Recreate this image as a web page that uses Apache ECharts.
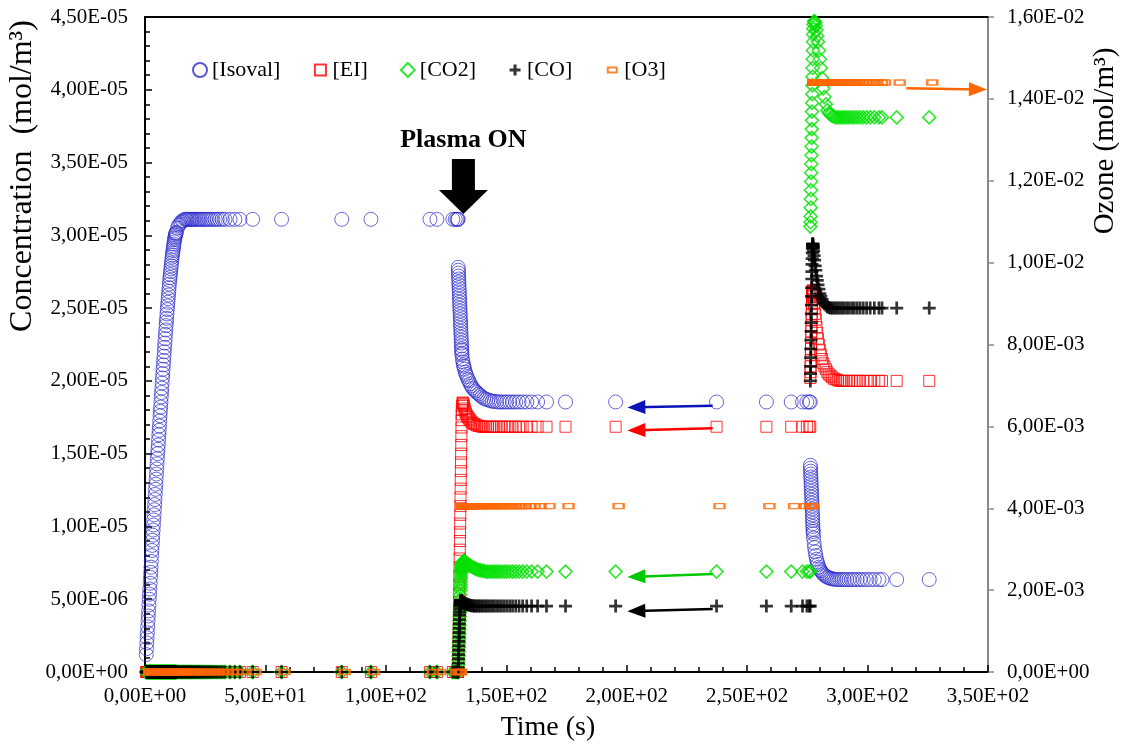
<!DOCTYPE html>
<html>
<head>
<meta charset="utf-8">
<script src="https://cdn.jsdelivr.net/npm/echarts@6/dist/echarts.min.js"></script>
<style>
html, body { margin: 0; padding: 0; background: #fff; }
#chart { width: 1122px; height: 744px; }
</style>
</head>
<body>
<div id="chart"></div>
<script>
// time (s) and concentrations, left axis values in 1e-5 mol/m3, ozone in 1e-2 mol/m3
const tPhase1 = [0.5, 0.625, 0.75, 0.875, 1, 1.125, 1.25, 1.375, 1.5, 1.625, 1.75, 1.875, 2, 2.125, 2.25, 2.375,
  2.5, 2.625, 2.75, 2.875, 3, 3.125, 3.25, 3.375, 3.5, 3.625, 3.75, 3.875, 4, 4.125, 4.25, 4.375,
  4.5, 4.625, 4.75, 4.875, 5, 5.125, 5.25, 5.375, 5.5, 5.625, 5.75, 5.875, 6, 6.125, 6.25, 6.375,
  6.5, 6.625, 6.75, 6.875, 7, 7.125, 7.25, 7.375, 7.5, 7.625, 7.75, 7.875, 8, 8.125, 8.25, 8.375,
  8.5, 8.625, 8.75, 8.875, 9, 9.125, 9.25, 9.375, 9.5, 9.625, 9.75, 9.875, 10, 10.125, 10.25, 10.375,
  10.5, 10.625, 10.75, 10.875, 11, 11.125, 11.25, 11.375, 11.5, 11.625, 11.75, 11.875, 12, 12.125, 12.25, 12.375,
  12.5, 12.625, 12.75, 12.875, 13,
  13.5, 14, 14.5, 15, 15.5, 16, 16.5, 17,
  17.5, 18, 18.5, 19, 19.5, 20, 20.6, 21.2, 21.8, 22.4, 23, 23.7, 24.4, 25.1, 25.8, 26.6, 27.4, 28.2, 29.1, 30, 31, 32.1,
  33.2, 35.3, 37.3, 39.4, 44.7, 56.7, 81.7, 93.8, 118.3, 121.2, 127.8, 128.8, 129.5, 129.9];
const isovalPhase1 = [0.12, 0.16, 0.20, 0.235, 0.27, 0.31, 0.35, 0.385, 0.42, 0.46, 0.50, 0.535, 0.57, 0.61, 0.65, 0.685,
  0.72, 0.76, 0.80, 0.835, 0.87, 0.905, 0.94, 0.975, 1.01, 1.045, 1.08, 1.115, 1.15, 1.185, 1.22, 1.255,
  1.29, 1.325, 1.36, 1.395, 1.43, 1.465, 1.50, 1.53, 1.56, 1.595, 1.63, 1.66, 1.69, 1.725, 1.76, 1.79,
  1.82, 1.855, 1.89, 1.92, 1.95, 1.985, 2.02, 2.05, 2.08, 2.11, 2.14, 2.17, 2.20, 2.23, 2.26, 2.29,
  2.32, 2.35, 2.38, 2.405, 2.43, 2.46, 2.49, 2.515, 2.54, 2.565, 2.59, 2.615, 2.64, 2.665, 2.69, 2.71,
  2.73, 2.75, 2.77, 2.79, 2.81, 2.83, 2.85, 2.865, 2.88, 2.895, 2.91, 2.925, 2.94, 2.955, 2.97, 2.98,
  2.99, 3.00, 3.01, 3.015, 3.02,
  3.05, 3.07, 3.08, 3.09, 3.10, 3.10, 3.11, 3.11,
  3.11, 3.11, 3.11, 3.11, 3.11, 3.11, 3.11, 3.11, 3.11, 3.11, 3.11, 3.11, 3.11, 3.11, 3.11, 3.11, 3.11, 3.11, 3.11, 3.11, 3.11, 3.11,
  3.11, 3.11, 3.11, 3.11, 3.11, 3.11, 3.11, 3.11, 3.11, 3.11, 3.11, 3.11, 3.11, 3.11];
// before the plasma, EI, CO2, CO and O3 all sit on zero
const baselinePhase1 = tPhase1.map(() => 0);

const tPhase2 = [130,
  130.05, 130.1, 130.15, 130.2, 130.25, 130.3, 130.35, 130.4, 130.45, 130.5, 130.55, 130.6, 130.65, 130.7, 130.75, 130.8,
  130.85, 130.9, 130.95, 131, 131.05, 131.1, 131.15, 131.2, 131.25, 131.3, 131.35, 131.4, 131.45, 131.5, 131.55, 131.6,
  131.8, 132, 132.2, 132.4, 132.7, 133, 133.3, 133.7, 134.1, 134.5, 135, 135.5, 136, 136.6, 137.2, 137.8, 138.5, 139.2, 139.9, 140.7,
  141.5, 142.3, 143.2, 144.1, 145, 146, 147, 148, 149.1, 150.2, 151.4, 152.6, 153.9, 155.3, 156.8, 158.5, 160.5, 163, 166.7, 174.6,
  195.4, 237.3, 258, 268.3, 273, 274.8, 275.8];
const isovalPhase2 = [3.11,
  2.78, 2.76, 2.74, 2.72, 2.70, 2.68, 2.66, 2.64, 2.62, 2.60, 2.58, 2.56, 2.54, 2.52, 2.50, 2.48,
  2.46, 2.44, 2.42, 2.40, 2.38, 2.36, 2.34, 2.32, 2.30, 2.28, 2.26, 2.24, 2.22, 2.21, 2.19, 2.18,
  2.15, 2.13, 2.11, 2.10, 2.08, 2.06, 2.045, 2.03, 2.01, 2.00, 1.98, 1.965, 1.95, 1.94, 1.93, 1.92, 1.91, 1.90, 1.89, 1.88,
  1.875, 1.87, 1.865, 1.86, 1.86, 1.857, 1.855, 1.855, 1.855, 1.855, 1.855, 1.855, 1.855, 1.855, 1.855, 1.855, 1.855, 1.855, 1.855, 1.855,
  1.855, 1.855, 1.855, 1.855, 1.855, 1.855, 1.855];
const eiPhase2 = [0,
  0.06, 0.12, 0.18, 0.24, 0.30, 0.36, 0.42, 0.48, 0.54, 0.60, 0.66, 0.72, 0.78, 0.84, 0.90, 0.96,
  1.02, 1.08, 1.14, 1.20, 1.26, 1.32, 1.38, 1.44, 1.50, 1.56, 1.62, 1.68, 1.73, 1.77, 1.80, 1.83,
  1.85, 1.85, 1.84, 1.83, 1.81, 1.79, 1.775, 1.76, 1.75, 1.74, 1.73, 1.72, 1.71, 1.705, 1.70, 1.695, 1.69, 1.69, 1.685, 1.685,
  1.685, 1.685, 1.685, 1.685, 1.685, 1.685, 1.685, 1.685, 1.685, 1.685, 1.685, 1.685, 1.685, 1.685, 1.685, 1.685, 1.685, 1.685, 1.685, 1.685,
  1.685, 1.685, 1.685, 1.685, 1.685, 1.685, 1.685];
const co2Phase2 = [0,
  0.02, 0.05, 0.08, 0.11, 0.14, 0.17, 0.20, 0.23, 0.26, 0.29, 0.32, 0.35, 0.38, 0.41, 0.44, 0.47,
  0.50, 0.53, 0.56, 0.58, 0.60, 0.62, 0.64, 0.66, 0.68, 0.69, 0.70, 0.71, 0.72, 0.73, 0.735, 0.74,
  0.75, 0.755, 0.76, 0.76, 0.76, 0.755, 0.75, 0.745, 0.74, 0.735, 0.73, 0.725, 0.72, 0.715, 0.71, 0.705, 0.70, 0.70, 0.695, 0.695,
  0.69, 0.69, 0.69, 0.69, 0.69, 0.69, 0.69, 0.69, 0.69, 0.69, 0.69, 0.69, 0.69, 0.69, 0.69, 0.69, 0.69, 0.69, 0.69, 0.69,
  0.69, 0.69, 0.69, 0.69, 0.69, 0.69, 0.69];
const coPhase2 = [0,
  0.03, 0.06, 0.09, 0.12, 0.15, 0.18, 0.21, 0.24, 0.27, 0.30, 0.33, 0.36, 0.39, 0.41, 0.43, 0.45,
  0.46, 0.47, 0.475, 0.48, 0.485, 0.49, 0.49, 0.49, 0.49, 0.49, 0.49, 0.49, 0.49, 0.488, 0.486, 0.485,
  0.483, 0.48, 0.478, 0.475, 0.472, 0.47, 0.467, 0.465, 0.462, 0.46, 0.458, 0.456, 0.455, 0.453, 0.453, 0.453, 0.453, 0.453, 0.453, 0.453,
  0.453, 0.453, 0.453, 0.453, 0.453, 0.453, 0.453, 0.453, 0.453, 0.453, 0.453, 0.453, 0.453, 0.453, 0.453, 0.453, 0.453, 0.453, 0.453, 0.453,
  0.453, 0.453, 0.453, 0.453, 0.453, 0.453, 0.453];
// ozone jumps from 0 to a flat level once the plasma is on
const o3Phase2 = tPhase2.map((t, i) => (i === 0 ? 0 : 0.405));

const tPhase3 = [276.2,
  276.25, 276.3, 276.35, 276.4, 276.45, 276.5, 276.55, 276.6, 276.65, 276.7, 276.75, 276.8, 276.85, 276.9, 276.95, 277,
  277.05, 277.1, 277.15, 277.2, 277.25, 277.3, 277.35, 277.4, 277.45,
  277.6, 277.8, 278, 278.25, 278.5, 278.8, 279.1, 279.4, 279.8, 280.2, 280.6, 281.1, 281.6, 282.1, 282.7, 283.3, 283.9, 284.6, 285.3, 286,
  286.8, 287.6, 288.5, 289.4, 290.3, 291.3, 292.3, 293.4, 294.5, 295.7, 296.9, 298.2, 299.6, 301.1, 302.8, 304.7, 306, 312.1, 325.6];
const isovalPhase3 = [1.855,
  1.42, 1.40, 1.38, 1.36, 1.34, 1.32, 1.30, 1.28, 1.26, 1.24, 1.22, 1.20, 1.18, 1.16, 1.14, 1.12,
  1.10, 1.08, 1.06, 1.04, 1.02, 1.00, 0.98, 0.965, 0.95,
  0.92, 0.885, 0.855, 0.825, 0.80, 0.775, 0.755, 0.74, 0.72, 0.705, 0.695, 0.683, 0.673, 0.665, 0.658, 0.652, 0.647, 0.643, 0.64, 0.638,
  0.636, 0.635, 0.635, 0.635, 0.635, 0.635, 0.635, 0.635, 0.635, 0.635, 0.635, 0.635, 0.635, 0.635, 0.635, 0.635, 0.635, 0.635, 0.635];
const eiPhase3 = [1.685,
  2.02, 2.06, 2.10, 2.14, 2.18, 2.22, 2.26, 2.30, 2.34, 2.38, 2.42, 2.46, 2.50, 2.53, 2.56, 2.58,
  2.60, 2.61, 2.62, 2.62, 2.62, 2.61, 2.60, 2.59, 2.58,
  2.56, 2.53, 2.50, 2.46, 2.42, 2.37, 2.33, 2.29, 2.25, 2.21, 2.18, 2.15, 2.12, 2.10, 2.08, 2.06, 2.045, 2.035, 2.025, 2.015,
  2.01, 2.005, 2.00, 2.00, 2.00, 2.00, 2.00, 2.00, 2.00, 2.00, 2.00, 2.00, 2.00, 2.00, 2.00, 2.00, 2.00, 2.00, 2.00];
const co2Phase3 = [0.69,
  3.06, 3.09, 3.13, 3.19, 3.25, 3.31, 3.37, 3.43, 3.49, 3.55, 3.61, 3.67, 3.73, 3.79, 3.85, 3.91,
  3.97, 4.03, 4.09, 4.15, 4.21, 4.27, 4.33, 4.38, 4.42,
  4.45, 4.47, 4.47, 4.46, 4.44, 4.41, 4.37, 4.33, 4.27, 4.21, 4.15, 4.08, 4.01, 3.95, 3.90, 3.86, 3.84, 3.83, 3.82, 3.815,
  3.81, 3.81, 3.81, 3.81, 3.81, 3.81, 3.81, 3.81, 3.81, 3.81, 3.81, 3.81, 3.81, 3.81, 3.81, 3.81, 3.81, 3.81, 3.81];
const coPhase3 = [0.453,
  2.00, 2.05, 2.10, 2.16, 2.22, 2.28, 2.34, 2.40, 2.46, 2.52, 2.58, 2.64, 2.70, 2.75, 2.80, 2.84,
  2.88, 2.91, 2.93, 2.94, 2.94, 2.94, 2.93, 2.92, 2.91,
  2.89, 2.86, 2.83, 2.79, 2.76, 2.72, 2.69, 2.66, 2.63, 2.60, 2.58, 2.56, 2.54, 2.53, 2.52, 2.51, 2.505, 2.50, 2.50, 2.50,
  2.50, 2.50, 2.50, 2.50, 2.50, 2.50, 2.50, 2.50, 2.50, 2.50, 2.50, 2.50, 2.50, 2.50, 2.50, 2.50, 2.50, 2.50, 2.50];
const o3Phase3 = tPhase3.map((t, i) => (i === 0 ? 0.405 : 1.44));

// annotation arrows [start, tip] in axis units
const arrowIsoval = [[235.7, 1.830], [204.0, 1.819]];
const arrowEI = [[235.7, 1.674], [204.0, 1.661]];
const arrowCO2 = [[235.7, 0.673], [204.0, 0.655]];
const arrowCO = [[235.7, 0.433], [204.0, 0.419]];
const arrowO3 = [[316.1, 1.426], [345.8, 1.423]];
const plasmaOnTip = [132.2, 3.147];

const xTicks = { min: 0, max: 350, step: 50 };
const leftTicks = { min: 0, max: 4.5e-5, step: 5e-6 };
const rightTicks = { min: 0, max: 0.016, step: 0.002 };

const E5 = 1e-5;
const E2 = 1e-2;
const serif = '"Liberation Serif", "Times New Roman", serif';

function sci(v) {
  if (v === 0) return '0,00E+00';
  const parts = v.toExponential(2).split('e');
  const n = parseInt(parts[1], 10);
  return parts[0].replace('.', ',') + 'E' + (n < 0 ? '-' : '+') + String(Math.abs(n)).padStart(2, '0');
}

function pairs(ts, vs, scale) {
  const out = [];
  const n = Math.min(ts.length, vs.length);
  for (let i = 0; i < n; i++) out.push([ts[i], vs[i] * scale]);
  return out;
}

function arrowLine(pts, scale, color) {
  return {
    silent: true,
    animation: false,
    symbol: ['none', 'triangle'],
    symbolSize: [14, 18],
    label: { show: false },
    emphasis: { disabled: true },
    lineStyle: { color: color, width: 2.5, type: 'solid' },
    data: [[
      { coord: [pts[0][0], pts[0][1] * scale] },
      { coord: [pts[1][0], pts[1][1] * scale] }
    ]]
  };
}

const isovalData = [].concat(pairs(tPhase1, isovalPhase1, E5), pairs(tPhase2, isovalPhase2, E5), pairs(tPhase3, isovalPhase3, E5));
const eiData = [].concat(pairs(tPhase1, baselinePhase1, E5), pairs(tPhase2, eiPhase2, E5), pairs(tPhase3, eiPhase3, E5));
const co2Data = [].concat(pairs(tPhase1, baselinePhase1, E5), pairs(tPhase2, co2Phase2, E5), pairs(tPhase3, co2Phase3, E5));
const coData = [].concat(pairs(tPhase1, baselinePhase1, E5), pairs(tPhase2, coPhase2, E5), pairs(tPhase3, coPhase3, E5));
const o3Data = [].concat(pairs(tPhase1, baselinePhase1, E2), pairs(tPhase2, o3Phase2, E2), pairs(tPhase3, o3Phase3, E2));

const plusPath = 'path://M4.75,0h2.5v4.75h4.75v2.5h-4.75v4.75h-2.5v-4.75h-4.75v-2.5h4.75z';
// legend icons padded inside a 14x14 box so they keep their small size
const squareIcon = 'path://M0,0M14,14M1.5,1.5H12.5V12.5H1.5Z';
const plusIcon = 'path://M0,0M14,14M5.5,1.5H8.5V5.5H12.5V8.5H8.5V12.5H5.5V8.5H1.5V5.5H5.5Z';
const dashIcon = 'path://M0,0M14,14M2.5,4.5H11.5V9.5H2.5Z';

const chart = echarts.init(document.getElementById('chart'), null, { renderer: 'canvas' });

const tickStyle = { color: '#000', width: 1.5 };
const labelStyle = { color: '#000', fontFamily: serif, fontSize: 21 };

const option = {
  animation: false,
  backgroundColor: '#fff',
  textStyle: { fontFamily: serif },
  grid: { left: 145, right: 134, top: 17, bottom: 72 },
  legend: {
    left: 187,
    top: 54,
    itemGap: 32,
    itemWidth: 14,
    itemHeight: 14,
    selectedMode: false,
    textStyle: { fontFamily: serif, fontSize: 22, color: '#000' },
    data: [
      { name: '[Isoval]' },
      { name: '[EI]', icon: squareIcon },
      { name: '[CO2]' },
      { name: '[CO]', icon: plusIcon },
      { name: '[O3]', icon: dashIcon }
    ]
  },
  xAxis: [
    {
      type: 'value',
      min: xTicks.min,
      max: xTicks.max,
      interval: xTicks.step,
      axisLine: { onZero: false, lineStyle: { color: '#000', width: 2 } },
      axisTick: { inside: true, length: 7, lineStyle: tickStyle },
      minorTick: { show: true, splitNumber: 5, length: 5, lineStyle: tickStyle },
      splitLine: { show: false },
      minorSplitLine: { show: false },
      axisLabel: Object.assign({ formatter: sci, margin: 14 }, labelStyle)
    },
    {
      type: 'value',
      position: 'top',
      min: xTicks.min,
      max: xTicks.max,
      axisLine: { show: true, onZero: false, lineStyle: { color: '#000', width: 2 } },
      axisTick: { show: false },
      axisLabel: { show: false },
      splitLine: { show: false }
    }
  ],
  yAxis: [
    {
      type: 'value',
      min: leftTicks.min,
      max: leftTicks.max,
      interval: leftTicks.step,
      axisLine: { show: true, onZero: false, lineStyle: { color: '#000', width: 2 } },
      axisTick: { show: true, inside: true, length: 7, lineStyle: tickStyle },
      minorTick: { show: true, splitNumber: 5, length: 5, lineStyle: tickStyle },
      splitLine: { show: false },
      minorSplitLine: { show: false },
      axisLabel: Object.assign({ formatter: sci, margin: 17 }, labelStyle)
    },
    {
      type: 'value',
      position: 'right',
      min: rightTicks.min,
      max: rightTicks.max,
      interval: rightTicks.step,
      axisLine: { show: true, onZero: false, lineStyle: { color: '#898989', width: 2 } },
      axisTick: { show: true, inside: false, length: 6, lineStyle: { color: '#898989', width: 1.5 } },
      splitLine: { show: false },
      axisLabel: Object.assign({ formatter: sci, margin: 19 }, labelStyle)
    }
  ],
  graphic: [
    {
      type: 'text', x: 23, y: 176, rotation: Math.PI / 2, silent: true,
      style: { text: 'Concentration  (mol/m³)', fill: '#000', font: '32px ' + serif, textAlign: 'center', textVerticalAlign: 'middle' }
    },
    {
      type: 'text', x: 1105, y: 141, rotation: Math.PI / 2, silent: true,
      style: { text: 'Ozone (mol/m³)', fill: '#000', font: '29px ' + serif, textAlign: 'center', textVerticalAlign: 'middle' }
    },
    {
      type: 'text', x: 548, y: 728, silent: true,
      style: { text: 'Time (s)', fill: '#000', font: '28px ' + serif, textAlign: 'center', textVerticalAlign: 'middle' }
    }
  ],
  series: [
    {
      name: '[Isoval]',
      type: 'scatter',
      xAxisIndex: 0,
      yAxisIndex: 0,
      clip: false,
      symbol: 'circle',
      symbolSize: 14,
      data: isovalData,
      emphasis: { disabled: true },
      itemStyle: { color: 'rgba(0,0,0,0)', borderColor: '#2E2ECC', borderWidth: 0.9 },
      markLine: arrowLine(arrowIsoval, E5, '#0A14B8'),
      markPoint: {
        silent: true,
        animation: false,
        data: [{
          coord: [plasmaOnTip[0], plasmaOnTip[1] * E5],
          symbol: 'path://M13,0H36V31H49L24.5,55L0,31H13Z',
          symbolSize: [49, 55],
          symbolOffset: [0, '-50%'],
          itemStyle: { color: '#000', borderWidth: 0 },
          label: {
            show: true,
            position: 'top',
            distance: 6,
            formatter: 'Plasma ON',
            color: '#000',
            fontFamily: serif,
            fontWeight: 'bold',
            fontSize: 26
          }
        }]
      }
    },
    {
      name: '[EI]',
      type: 'scatter',
      xAxisIndex: 0,
      yAxisIndex: 0,
      clip: false,
      symbol: 'rect',
      symbolSize: 11,
      data: eiData,
      emphasis: { disabled: true },
      itemStyle: { color: 'rgba(0,0,0,0)', borderColor: '#FF0000', borderWidth: 1 },
      markLine: arrowLine(arrowEI, E5, '#FF0000')
    },
    {
      name: '[CO2]',
      type: 'scatter',
      xAxisIndex: 0,
      yAxisIndex: 0,
      clip: false,
      symbol: 'diamond',
      symbolSize: 13,
      data: co2Data,
      emphasis: { disabled: true },
      itemStyle: { color: 'rgba(0,0,0,0)', borderColor: '#00E000', borderWidth: 1.6 },
      markLine: arrowLine(arrowCO2, E5, '#00C800')
    },
    {
      name: '[CO]',
      type: 'scatter',
      xAxisIndex: 0,
      yAxisIndex: 0,
      clip: false,
      symbol: plusPath,
      symbolSize: 13,
      data: coData,
      emphasis: { disabled: true },
      itemStyle: { color: '#000', borderWidth: 0 },
      markLine: arrowLine(arrowCO, E5, '#000')
    },
    {
      name: '[O3]',
      type: 'scatter',
      xAxisIndex: 0,
      yAxisIndex: 1,
      clip: false,
      symbol: 'rect',
      symbolSize: [10, 5],
      symbolOffset: [3, 0],
      data: o3Data,
      emphasis: { disabled: true },
      itemStyle: { color: 'rgba(0,0,0,0)', borderColor: '#FF6600', borderWidth: 1.8 },
      markLine: arrowLine(arrowO3, E2, '#FF6600')
    }
  ]
};

chart.setOption(option);
window.onresize = chart.resize;
</script>
</body>
</html>
